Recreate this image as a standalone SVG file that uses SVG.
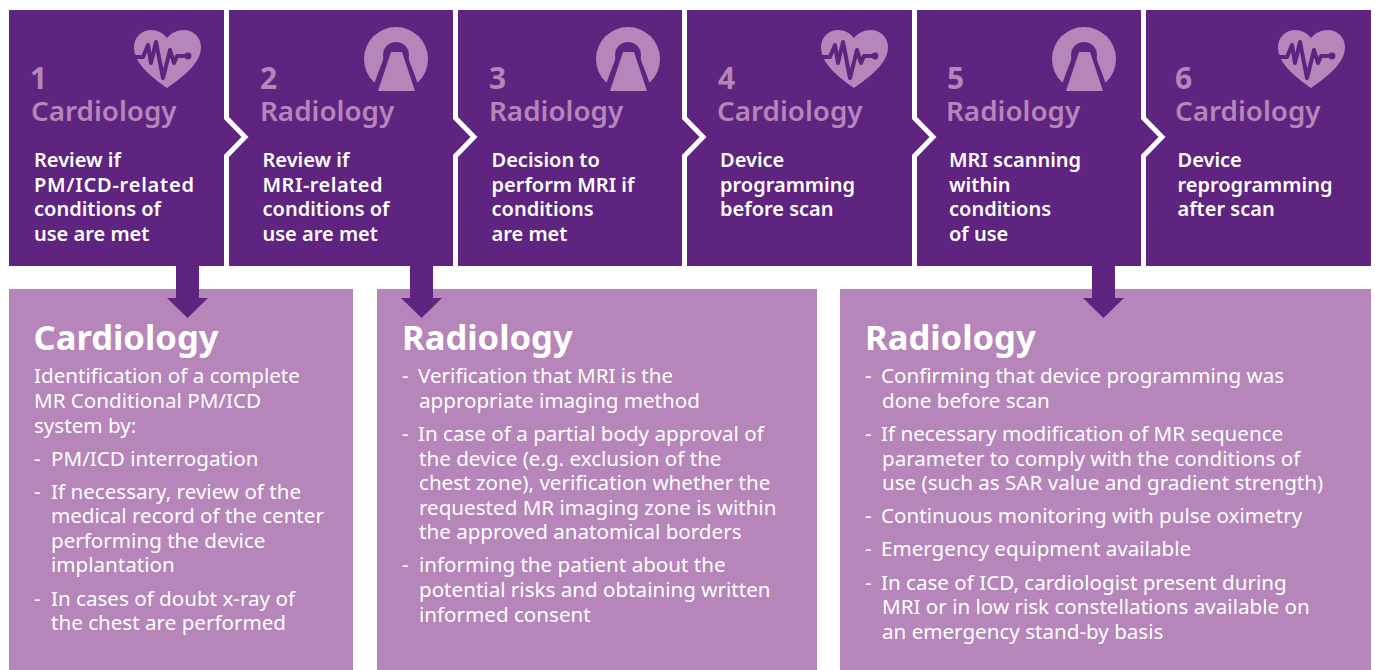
<svg xmlns="http://www.w3.org/2000/svg" width="1375" height="670" viewBox="0 0 1375 670">
<style>
text{font-family:"Noto Sans","Open Sans","Liberation Sans",sans-serif}
.step{fill:#5e2480}
.panel{fill:#b685ba}
.sep{fill:none;stroke:#fff;stroke-width:5}
.num{fill:#b685ba;font-size:30px;font-weight:700}
.dept{fill:#b685ba;font-size:27.8px;font-weight:600}
.desc{fill:#fff;font-size:20px;font-weight:600}
.head{fill:#fff;font-size:34.6px;font-weight:700}
.body{fill:#fff;font-size:20.6px;font-weight:400}
.arrow{fill:#5e2480}
</style>
<defs>
<g id="heart">
<path fill="#b685ba" d="M167 88C150 76 134 63 134 47C134 37 142 30 151 30C158 30 163 33 167 38C171 33 177 30 184 30C193 30 201 37 201 47C201 63 184 76 167 88Z"/>
<path fill="none" stroke="#5e2480" stroke-width="4" stroke-linejoin="round" stroke-linecap="round" d="M135 57H143L148 45L151 63L156 42L163 78L170 50L174 63L177 56H187"/>
<circle cx="188" cy="56" r="3.4" fill="#5e2480"/>
</g>
<g id="mri">
<circle cx="396" cy="59" r="32" fill="#b685ba"/>
<circle cx="396" cy="55" r="13" fill="#5e2480"/>
<path fill="#5e2480" d="M386 52H406L421 92H371Z"/>
<path fill="#b685ba" d="M391 52H402L415 91H378Z"/>
</g>
</defs>
<g id="step1"><rect class="step" x="9" y="10" width="1362" height="256"/><use href="#heart"/><text class="num" x="30" y="89">1</text><text class="dept" x="31" y="121">Cardiology</text><text class="desc"><tspan x="34" y="167">Review if</tspan><tspan x="34" y="192" textLength="160">PM/ICD-related</tspan><tspan x="34" y="216">conditions of</tspan><tspan x="34" y="241">use are met</tspan></text></g>
<g id="step2"><use href="#mri"/><text class="num" x="260" y="89">2</text><text class="dept" x="260" y="121">Radiology</text><text class="desc"><tspan x="262.500" y="167">Review if</tspan><tspan x="262.500" y="192" textLength="120">MRI-related</tspan><tspan x="262.500" y="216">conditions of</tspan><tspan x="262.500" y="241">use are met</tspan></text></g>
<g id="step3"><use href="#mri" x="232"/><text class="num" x="489" y="89">3</text><text class="dept" x="489" y="121">Radiology</text><text class="desc"><tspan x="491.500" y="167">Decision to</tspan><tspan x="491.500" y="192">perform MRI if</tspan><tspan x="491.500" y="216">conditions</tspan><tspan x="491.500" y="241">are met</tspan></text></g>
<g id="step4"><use href="#heart" x="687"/><text class="num" x="718" y="89">4</text><text class="dept" x="717" y="121">Cardiology</text><text class="desc"><tspan x="720" y="167">Device</tspan><tspan x="720" y="192">programming</tspan><tspan x="720" y="216">before scan</tspan></text></g>
<g id="step5"><use href="#mri" x="688"/><text class="num" x="947" y="89">5</text><text class="dept" x="946" y="121">Radiology</text><text class="desc"><tspan x="949" y="167">MRI scanning</tspan><tspan x="949" y="192">within</tspan><tspan x="949" y="216">conditions</tspan><tspan x="949" y="241">of use</tspan></text></g>
<g id="step6"><use href="#heart" x="1144"/><text class="num" x="1175" y="89">6</text><text class="dept" x="1175" y="121">Cardiology</text><text class="desc"><tspan x="1177.500" y="167">Device</tspan><tspan x="1177.500" y="192">reprogramming</tspan><tspan x="1177.500" y="216">after scan</tspan></text></g>
<g id="separators">
<path class="sep" d="M226.500 10V118L245 137L226.500 156V266"/>
<path class="sep" d="M455.500 10V118L474 137L455.500 156V266"/>
<path class="sep" d="M684.500 10V118L703 137L684.500 156V266"/>
<path class="sep" d="M914.500 10V118L933 137L914.500 156V266"/>
<path class="sep" d="M1143.500 10V118L1162 137L1143.500 156V266"/>
</g>
<g id="panel1"><rect class="panel" x="9" y="289" width="344" height="381"/><text class="head" x="33.500" y="350">Cardiology</text><text class="body"><tspan x="34" y="383">Identification of a complete</tspan><tspan x="34" y="408">MR Conditional PM/ICD</tspan><tspan x="34" y="433">system by:</tspan><tspan x="34" y="466">-</tspan><tspan x="51" y="466">PM/ICD interrogation</tspan><tspan x="34" y="499">-</tspan><tspan x="51" y="499">If necessary, review of the</tspan><tspan x="51" y="523">medical record of the center</tspan><tspan x="51" y="548">performing the device</tspan><tspan x="51" y="572">implantation</tspan><tspan x="34" y="606">-</tspan><tspan x="51" y="606">In cases of doubt x-ray of</tspan><tspan x="51" y="630">the chest are performed</tspan></text></g>
<g id="panel2"><rect class="panel" x="377" y="289" width="440" height="381"/><text class="head" x="402" y="350">Radiology</text><text class="body"><tspan x="402" y="383">-</tspan><tspan x="418" y="383">Verification that MRI is the</tspan><tspan x="419" y="408">appropriate imaging method</tspan><tspan x="402" y="441">-</tspan><tspan x="418" y="441">In case of a partial body approval of</tspan><tspan x="419" y="466">the device (e.g. exclusion of the</tspan><tspan x="419" y="490">chest zone), verification whether the</tspan><tspan x="419" y="515">requested MR imaging zone is within</tspan><tspan x="419" y="539">the approved anatomical borders</tspan><tspan x="402" y="572">-</tspan><tspan x="419" y="572">informing the patient about the</tspan><tspan x="419" y="597">potential risks and obtaining written</tspan><tspan x="419" y="622">informed consent</tspan></text></g>
<g id="panel3"><rect class="panel" x="840" y="289" width="531" height="381"/><text class="head" x="865" y="350">Radiology</text><text class="body"><tspan x="865" y="383">-</tspan><tspan x="881" y="383">Confirming that device programming was</tspan><tspan x="882" y="408">done before scan</tspan><tspan x="865" y="441">-</tspan><tspan x="881" y="441">If necessary modification of MR sequence</tspan><tspan x="882" y="466">parameter to comply with the conditions of</tspan><tspan x="882" y="490">use (such as SAR value and gradient strength)</tspan><tspan x="865" y="523">-</tspan><tspan x="881" y="523">Continuous monitoring with pulse oximetry</tspan><tspan x="865" y="556">-</tspan><tspan x="881" y="556">Emergency equipment available</tspan><tspan x="865" y="590">-</tspan><tspan x="881" y="590">In case of ICD, cardiologist present during</tspan><tspan x="882" y="614">MRI or in low risk constellations available on</tspan><tspan x="882" y="639">an emergency stand-by basis</tspan></text></g>
<g id="connectors">
<path class="arrow" d="M176 266H199V298H208L187.500 318L167 298H176Z"/>
<path class="arrow" d="M410 266H433V298H442L421.500 318L401 298H410Z"/>
<path class="arrow" d="M1092 266H1115V298H1124L1103.500 318L1083 298H1092Z"/>
</g>
</svg>
